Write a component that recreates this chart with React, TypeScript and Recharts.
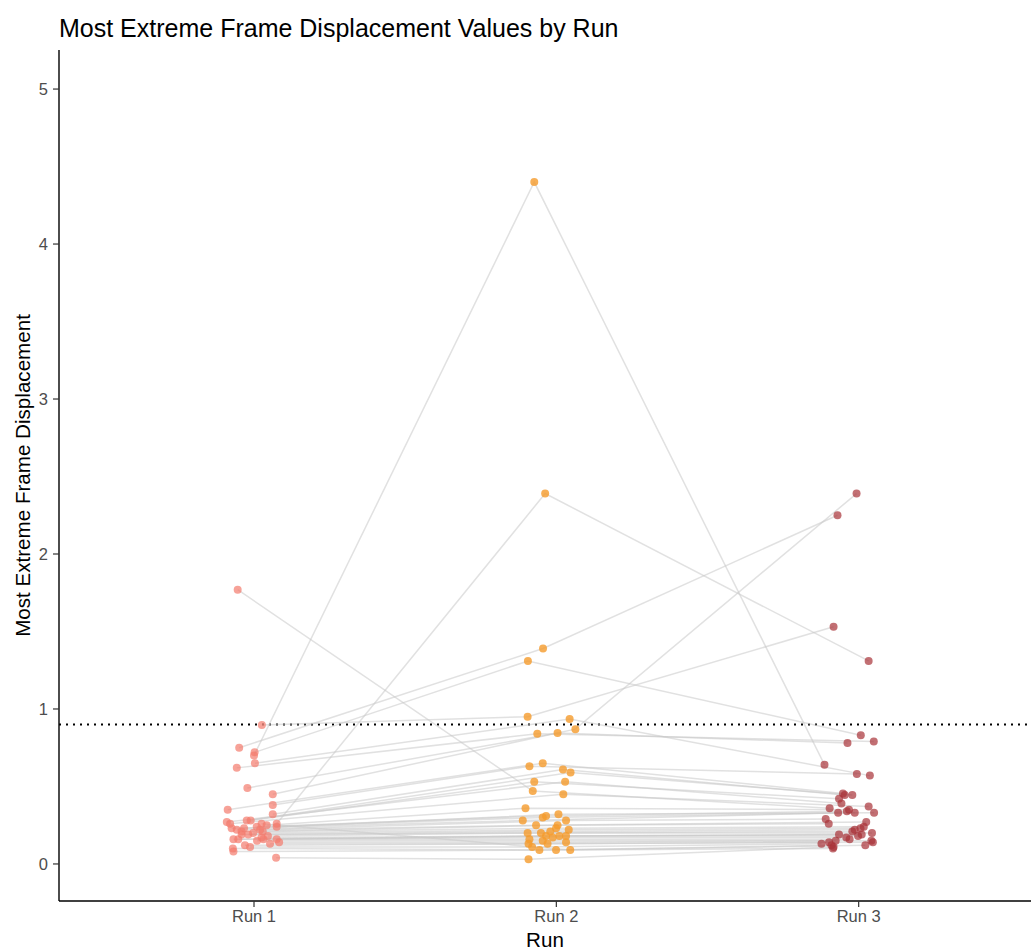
import React from 'react';
import { ScatterChart, Scatter, XAxis, YAxis, ReferenceLine, Label } from 'recharts';

const runLabels = ['Run 1', 'Run 2', 'Run 3'];
const yTicks = [0, 1, 2, 3, 4, 5];
const threshold = 0.9;

const run1Values = [0.70, 0.26, 0.75, 0.72, 0.897, 0.45, 1.77, 0.65, 0.62, 0.49, 0.38, 0.35, 0.32, 0.28, 0.28, 0.27, 0.26, 0.25, 0.24, 0.24, 0.23, 0.23, 0.22, 0.22, 0.21, 0.21, 0.20, 0.19, 0.19, 0.18, 0.17, 0.16, 0.16, 0.16, 0.16, 0.15, 0.14, 0.13, 0.12, 0.11, 0.10, 0.08, 0.04, 0.26];
const run1Jitter = [0.000, 0.075, -0.049, 0.002, 0.026, 0.062, -0.054, 0.003, -0.057, -0.022, 0.062, -0.087, 0.062, -0.024, -0.011, -0.090, -0.079, 0.042, 0.075, 0.009, -0.074, -0.033, -0.057, 0.020, -0.041, 0.029, -0.003, -0.041, -0.019, 0.046, 0.025, -0.068, -0.052, 0.031, 0.075, 0.010, 0.083, 0.053, -0.030, -0.013, -0.070, -0.068, 0.073, 0.025];

const run2Values = [4.40, 2.39, 1.39, 1.31, 0.95, 0.87, 0.47, 0.935, 0.84, 0.845, 0.63, 0.65, 0.61, 0.59, 0.53, 0.53, 0.45, 0.36, 0.32, 0.31, 0.30, 0.28, 0.28, 0.25, 0.25, 0.23, 0.22, 0.21, 0.20, 0.20, 0.18, 0.18, 0.18, 0.17, 0.16, 0.15, 0.14, 0.13, 0.13, 0.11, 0.09, 0.09, 0.03, 0.09];
const run2Jitter = [-0.073, -0.037, -0.044, -0.094, -0.095, 0.063, -0.078, 0.044, -0.063, 0.004, -0.089, -0.045, 0.022, 0.047, -0.073, 0.029, 0.023, -0.102, 0.007, -0.034, -0.045, -0.111, 0.032, -0.067, 0.004, -0.001, 0.041, -0.020, -0.095, -0.051, -0.034, 0.010, 0.032, -0.012, -0.089, -0.045, 0.032, -0.029, -0.092, -0.080, -0.056, -0.001, -0.092, 0.046];

const run3Values = [0.64, 1.31, 2.25, 0.83, 1.53, 2.39, 0.36, 0.57, 0.79, 0.78, 0.58, 0.455, 0.445, 0.445, 0.42, 0.39, 0.37, 0.35, 0.33, 0.34, 0.33, 0.33, 0.29, 0.27, 0.26, 0.24, 0.23, 0.22, 0.21, 0.20, 0.19, 0.19, 0.18, 0.17, 0.16, 0.15, 0.15, 0.14, 0.14, 0.13, 0.12, 0.12, 0.11, 0.10];
const run3Jitter = [-0.113, 0.033, -0.070, 0.007, -0.083, -0.007, -0.096, 0.037, 0.050, -0.037, -0.006, -0.052, -0.046, -0.021, -0.065, -0.057, 0.033, -0.032, 0.051, -0.039, -0.013, -0.068, -0.109, 0.025, -0.099, 0.017, 0.006, -0.013, -0.021, 0.044, -0.065, 0.010, -0.002, -0.041, -0.030, 0.042, -0.076, 0.047, -0.098, -0.123, -0.090, 0.022, -0.083, -0.085];

const runColors = ['#F37A6C', '#F59B2C', '#A83238'];
const runOpacity = [0.7, 0.8, 0.7];

const runValues = [run1Values, run2Values, run3Values];
const runJitter = [run1Jitter, run2Jitter, run3Jitter];

const runPoints = runValues.map((vals, r) =>
  vals.map((v, i) => ({ x: r + 1 + runJitter[r][i], y: v }))
);
const subjectPaths = run1Values.map((_, i) =>
  runValues.map((vals, r) => ({ x: r + 1 + runJitter[r][i], y: vals[i] }))
);

const FONT = '"Liberation Sans", Arial, Helvetica, sans-serif';

const makeDot = (color: string, opacity: number) => (props: any) => (
  <circle cx={props.cx} cy={props.cy} r={4} fill={color} fillOpacity={opacity} />
);

const noDot = () => <g />;

export default function App() {
  return (
    <div style={{ position: 'absolute', left: 0, top: 0, width: 1031, height: 951, overflow: 'hidden', background: '#fff', fontFamily: FONT }}>
      <div style={{ position: 'absolute', left: 59, top: 16, fontSize: 25, lineHeight: '25px', color: '#000', whiteSpace: 'nowrap' }}>
        Most Extreme Frame Displacement Values by Run
      </div>
      <ScatterChart width={1031} height={951} margin={{ top: 50, right: 0, bottom: 0, left: 0 }} style={{ fontFamily: FONT }}>
        <XAxis
          type="number"
          dataKey="x"
          domain={[0.355, 3.57]}
          ticks={[1, 2, 3]}
          interval={0}
          allowDataOverflow
          tickFormatter={(v: number) => runLabels[Math.round(v) - 1]}
          axisLine={{ stroke: '#000', strokeWidth: 1.4 }}
          tickLine={{ stroke: '#333', strokeWidth: 1.2 }}
          tickSize={6}
          tickMargin={3}
          tick={{ fill: '#4d4d4d', fontSize: 16.5 }}
          height={50}
        >
          <Label value="Run" position="insideBottom" offset={4} style={{ fontSize: 20.6, fill: '#000' }} />
        </XAxis>
        <YAxis
          type="number"
          dataKey="y"
          domain={[-0.239, 5.252]}
          ticks={yTicks}
          interval={0}
          allowDataOverflow
          axisLine={{ stroke: '#000', strokeWidth: 1.4 }}
          tickLine={{ stroke: '#333', strokeWidth: 1.2 }}
          tickSize={6}
          tickMargin={5}
          tick={{ fill: '#4d4d4d', fontSize: 16.5 }}
          width={59}
        >
          <Label
            content={(p: any) => {
              const vb = p.viewBox || { x: 0, y: 50, width: 59, height: 851 };
              const cx = vb.x + 30;
              const cy = vb.y + vb.height / 2;
              return (
                <text x={cx} y={cy} transform={`rotate(-90, ${cx}, ${cy})`} textAnchor="middle" fontSize={20.6} fill="#000" fontFamily={FONT}>
                  Most Extreme Frame Displacement
                </text>
              );
            }}
          />
        </YAxis>
        {subjectPaths.map((pts, i) => (
          <Scatter
            key={`s${i}`}
            data={pts}
            line={{ stroke: '#c8c8c8', strokeWidth: 1.5, strokeOpacity: 0.55 }}
            lineType="joint"
            shape={noDot}
            isAnimationActive={false}
          />
        ))}
        <ReferenceLine y={threshold} stroke="#000" strokeWidth={1.8} strokeDasharray="2 5" />
        {runPoints.map((pts, r) => (
          <Scatter
            key={`r${r}`}
            name={runLabels[r]}
            data={pts}
            shape={makeDot(runColors[r], runOpacity[r])}
            isAnimationActive={false}
          />
        ))}
      </ScatterChart>
    </div>
  );
}
